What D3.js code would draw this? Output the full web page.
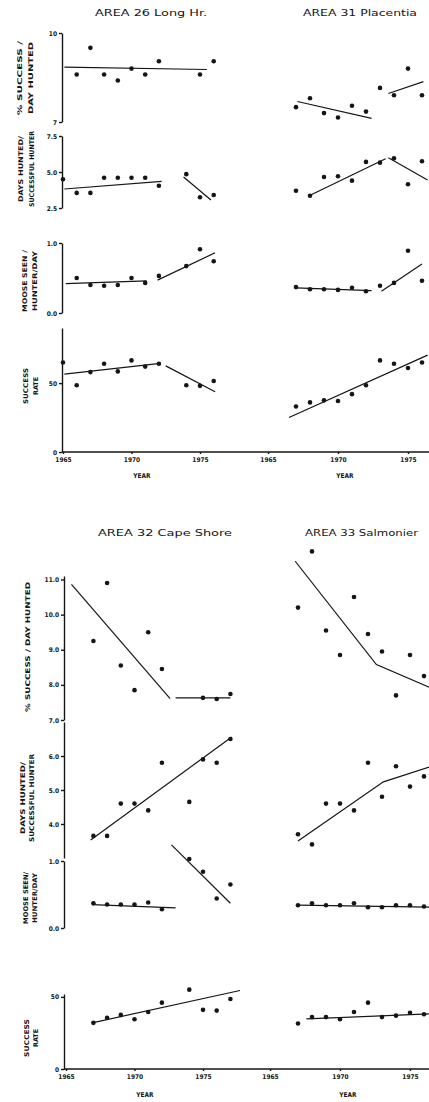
<!DOCTYPE html>
<meta charset="utf-8">
<style>

    body { margin: 0; background: #fff; }

    svg text {
        font-family: "Liberation Sans Narrow", "DejaVu Sans Condensed", "Liberation Sans", sans-serif;
        font-weight: bold;
        fill: #151515;
    }

    .title { font-size: 9px; font-weight: normal; }
    .ylab { font-size: 6.5px; }
    .axis text { font-size: 6.5px; }
    .axis path, .axis line { stroke: #151515; stroke-width: 1.4; }
    .fit { fill: none; stroke: #151515; stroke-width: 1.2; }
    .pt { fill: #151515; }

</style>
<body>

    <div id="chart"></div>

    <script src="https://d3js.org/d3.v7.min.js"></script>

    <script type="text/javascript">

        // ---- AREA 26 Long Hr. ----
        var pctDay26 = [[1966,8.6],[1967,9.5],[1968,8.6],[1969,8.4],[1970,8.8],[1971,8.6],[1972,9.05],[1975,8.6],[1976,9.05]];
        var pctDay26Fit = [[[1965.1,8.85],[1975.5,8.77]]];
        var days26 = [[1965,4.5],[1966,3.55],[1967,3.55],[1968,4.6],[1969,4.6],[1970,4.6],[1971,4.6],[1972,4.05],[1974,4.85],[1975,3.25],[1976,3.4]];
        var days26Fit = [[[1965.1,3.82],[1972.2,4.35]], [[1973.8,4.65],[1975.8,3.06]]];
        var moose26 = [[1966,0.5],[1967,0.4],[1968,0.39],[1969,0.4],[1970,0.5],[1971,0.43],[1972,0.53],[1974,0.67],[1975,0.91],[1976,0.74]];
        var moose26Fit = [[[1965.2,0.42],[1971.1,0.46]], [[1971.9,0.47],[1976.1,0.86]]];
        var rate26 = [[1965,65],[1966,48.5],[1967,58],[1968,64],[1969,58.5],[1970,66.5],[1971,62],[1972,64],[1974,48.5],[1975,48],[1976,51.5]];
        var rate26Fit = [[[1965.1,56.5],[1972.1,64.3]], [[1972.5,62.5],[1976.1,43.7]]];

        // ---- AREA 31 Placentia ----
        var pctDay31 = [[1967,7.5],[1968,7.8],[1969,7.3],[1970,7.15],[1971,7.55],[1972,7.35],[1973,8.15],[1974,7.9],[1975,8.8],[1976,7.9]];
        var pctDay31Fit = [[[1967.1,7.69],[1972.4,7.12]], [[1973.6,7.96],[1976.1,8.36]]];
        var days31 = [[1967,3.7],[1968,3.35],[1969,4.65],[1970,4.7],[1971,4.4],[1972,5.7],[1973,5.65],[1974,5.95],[1975,4.15],[1976,5.75]];
        var days31Fit = [[[1967.9,3.33],[1973.4,5.92]], [[1973.6,5.99],[1976.4,4.44]]];
        var moose31 = [[1967,0.37],[1968,0.34],[1969,0.34],[1970,0.33],[1971,0.36],[1972,0.31],[1973,0.39],[1974,0.43],[1975,0.89],[1976,0.46]];
        var moose31Fit = [[[1967,0.36],[1972.4,0.32]], [[1973.1,0.31],[1976,0.7]]];
        var rate31 = [[1967,33],[1968,36],[1969,37.5],[1970,37],[1971,42],[1972,48.5],[1973,66.5],[1974,64],[1975,61],[1976,65]];
        var rate31Fit = [[[1966.5,25],[1976.4,70.3]]];

        // ---- AREA 32 Cape Shore ----
        var pctDay32 = [[1967,9.25],[1968,10.9],[1969,8.55],[1970,7.85],[1971,9.5],[1972,8.45],[1975,7.63],[1976,7.6],[1977,7.74]];
        var pctDay32Fit = [[[1965.4,10.86],[1972.6,7.61]], [[1973,7.63],[1977,7.63]]];
        var days32 = [[1967,3.65],[1968,3.65],[1969,4.6],[1970,4.6],[1971,4.4],[1972,5.8],[1974,4.65],[1975,5.9],[1976,5.8],[1977,6.5]];
        var days32Fit = [[[1966.8,3.53],[1977.1,6.56]]];
        var moose32 = [[1967,0.37],[1968,0.35],[1969,0.35],[1970,0.35],[1971,0.38],[1972,0.28],[1974,1.03],[1975,0.84],[1976,0.44],[1977,0.65]];
        var moose32Fit = [[[1966.9,0.35],[1973,0.3]], [[1972.7,1.24],[1977,0.37]]];
        var rate32 = [[1967,32],[1968,35.5],[1969,37.5],[1970,34.5],[1971,39.5],[1972,46],[1974,55],[1975,41],[1976,40.5],[1977,48.5]];
        var rate32Fit = [[[1967,32.2],[1977.7,54.4]]];

        // ---- AREA 33 Salmonier ----
        var pctDay33 = [[1967,10.2],[1968,11.8],[1969,9.55],[1970,8.85],[1971,10.5],[1972,9.45],[1973,8.95],[1974,7.7],[1975,8.85],[1976,8.25]];
        var pctDay33Fit = [[[1966.8,11.52],[1972.6,8.58],[1976.4,7.93]]];
        var days33 = [[1967,3.7],[1968,3.4],[1969,4.6],[1970,4.6],[1971,4.4],[1972,5.8],[1973,4.8],[1974,5.7],[1975,5.1],[1976,5.4]];
        var days33Fit = [[[1967,3.5],[1973.1,5.24],[1976.4,5.68]]];
        var moose33 = [[1967,0.34],[1968,0.37],[1969,0.34],[1970,0.34],[1971,0.37],[1972,0.31],[1973,0.31],[1974,0.34],[1975,0.34],[1976,0.32]];
        var moose33Fit = [[[1967,0.34],[1976.4,0.31]]];
        var rate33 = [[1967,31.5],[1968,36],[1969,36],[1970,34.5],[1971,39.5],[1972,46],[1973,36],[1974,37],[1975,39],[1976,38]];
        var rate33Fit = [[[1967.6,34.7],[1976.4,38.2]]];

        // axis ticks
        var yearTicks = [1965, 1970, 1975];

        var svg = d3.select("#chart")
            .append("svg")
            .attr("width", 429)
            .attr("height", 1102);

        var figs = [
            {
                titles: [["AREA 26 Long Hr.", 95, 207, 16], ["AREA 31 Placentia", 303, 417, 16]],
                xL: d3.scaleLinear().domain([1965, 1975]).range([63, 200]),
                xR: d3.scaleLinear().domain([1965, 1975]).range([268, 408]),
                axisX: 62, baseY: 452, yearY: 478, yearX: [142, 345],
                panels: [
                    { y: d3.scaleLinear().domain([7, 10]).range([122, 33]), ticks: [7, 10], fmt: d3.format("d"),
                      lab: ["% SUCCESS /", "DAY HUNTED"], labX: [22, 33], labY: 78, labLen: [74, 72],
                      L: [pctDay26, pctDay26Fit], R: [pctDay31, pctDay31Fit] },
                    { y: d3.scaleLinear().domain([2.5, 7.5]).range([208, 136]), ticks: [2.5, 5, 7.5], fmt: d3.format(".1f"),
                      lab: ["DAYS HUNTED/", "SUCCESSFUL HUNTER"], labX: [23, 34], labY: 169, labLen: [66, 76],
                      L: [days26, days26Fit], R: [days31, days31Fit] },
                    { y: d3.scaleLinear().domain([0, 1]).range([313, 243]), ticks: [0, 1], fmt: d3.format(".1f"),
                      lab: ["MOOSE SEEN /", "HUNTER/DAY"], labX: [27, 37], labY: 281, labLen: [62, 60],
                      L: [moose26, moose26Fit], R: [moose31, moose31Fit] },
                    { y: d3.scaleLinear().domain([0, 90]).range([452, 328]), ticks: [0, 50], fmt: d3.format("d"),
                      lab: ["SUCCESS", "RATE"], labX: [28, 38], labY: 386, labLen: [36, 18],
                      L: [rate26, rate26Fit], R: [rate31, rate31Fit] }
                ]
            },
            {
                titles: [["AREA 32 Cape Shore", 98, 232, 536], ["AREA 33 Salmonier", 305, 418, 536]],
                xL: d3.scaleLinear().domain([1965, 1975]).range([66, 203]),
                xR: d3.scaleLinear().domain([1965, 1975]).range([270, 410]),
                axisX: 64, baseY: 1069, yearY: 1097, yearX: [145, 348],
                panels: [
                    { y: d3.scaleLinear().domain([7, 11.1]).range([720, 576]), ticks: [7, 8, 9, 10, 11], fmt: d3.format(".1f"),
                      lab: ["% SUCCESS / DAY HUNTED"], labX: [30], labY: 647, labLen: [130],
                      L: [pctDay32, pctDay32Fit], R: [pctDay33, pctDay33Fit] },
                    { y: d3.scaleLinear().domain([3, 7]).range([858, 722]), ticks: [4, 5, 6], fmt: d3.format(".1f"),
                      lab: ["DAYS HUNTED/", "SUCCESSFUL HUNTER"], labX: [25, 34], labY: 798, labLen: [72, 88],
                      L: [days32, days32Fit], R: [days33, days33Fit] },
                    { y: d3.scaleLinear().domain([0, 1]).range([928, 861]), ticks: [0, 1], fmt: d3.format(".1f"),
                      lab: ["MOOSE SEEN/", "HUNTER/DAY"], labX: [28, 37], labY: 898, labLen: [52, 50],
                      L: [moose32, moose32Fit], R: [moose33, moose33Fit] },
                    { y: d3.scaleLinear().domain([0, 52]).range([1069, 994]), ticks: [0, 50], fmt: d3.format("d"),
                      lab: ["SUCCESS", "RATE"], labX: [29, 38], labY: 1038, labLen: [38, 18],
                      L: [rate32, rate32Fit], R: [rate33, rate33Fit] }
                ]
            }
        ];

        figs.forEach(function (f) {

            var g = svg.append("g");

            // titles
            f.titles.forEach(function (t) {
                g.append("text")
                    .attr("class", "title")
                    .attr("x", t[1])
                    .attr("y", t[3])
                    .attr("textLength", t[2] - t[1])
                    .attr("lengthAdjust", "spacingAndGlyphs")
                    .text(t[0]);
            });

            f.panels.forEach(function (p) {

                // y axis
                g.append("g")
                    .attr("class", "axis")
                    .attr("transform", "translate(" + f.axisX + ",0)")
                    .call(d3.axisLeft(p.y).tickValues(p.ticks).tickFormat(p.fmt).tickSize(3).tickSizeOuter(0).tickPadding(2));

                // rotated label
                p.lab.forEach(function (s, i) {
                    g.append("text")
                        .attr("class", "ylab")
                        .attr("text-anchor", "middle")
                        .attr("transform", "translate(" + p.labX[i] + "," + p.labY + ") rotate(-90)")
                        .attr("textLength", p.labLen[i])
                        .attr("lengthAdjust", "spacingAndGlyphs")
                        .text(s);
                });

                [[p.L, f.xL], [p.R, f.xR]].forEach(function (side) {
                    var pts = side[0][0], fits = side[0][1], x = side[1];

                    var line = d3.line()
                        .x(function (d) { return x(d[0]); })
                        .y(function (d) { return p.y(d[1]); });

                    g.selectAll(null)
                        .data(fits)
                        .enter()
                        .append("path")
                        .attr("class", "fit")
                        .attr("d", line);

                    g.selectAll(null)
                        .data(pts)
                        .enter()
                        .append("circle")
                        .attr("class", "pt")
                        .attr("r", 2.3)
                        .attr("cx", function (d) { return x(d[0]); })
                        .attr("cy", function (d) { return p.y(d[1]); });
                });
            });

            // year axis: one long base line, two sets of ticks
            g.append("line")
                .attr("x1", f.axisX)
                .attr("x2", 429)
                .attr("y1", f.baseY)
                .attr("y2", f.baseY)
                .style("stroke", "#151515")
                .style("stroke-width", 1.6);

            [f.xL, f.xR].forEach(function (x, i) {
                var ax = g.append("g")
                    .attr("class", "axis")
                    .attr("transform", "translate(0," + f.baseY + ")")
                    .call(d3.axisBottom(x).tickValues(yearTicks).tickFormat(d3.format("d")).tickSize(2).tickSizeOuter(0).tickPadding(3));
                ax.select(".domain").remove();

                g.append("text")
                    .attr("class", "ylab")
                    .attr("text-anchor", "middle")
                    .attr("x", f.yearX[i])
                    .attr("y", f.yearY)
                    .text("YEAR");
            });
        });

    </script>

</body>
